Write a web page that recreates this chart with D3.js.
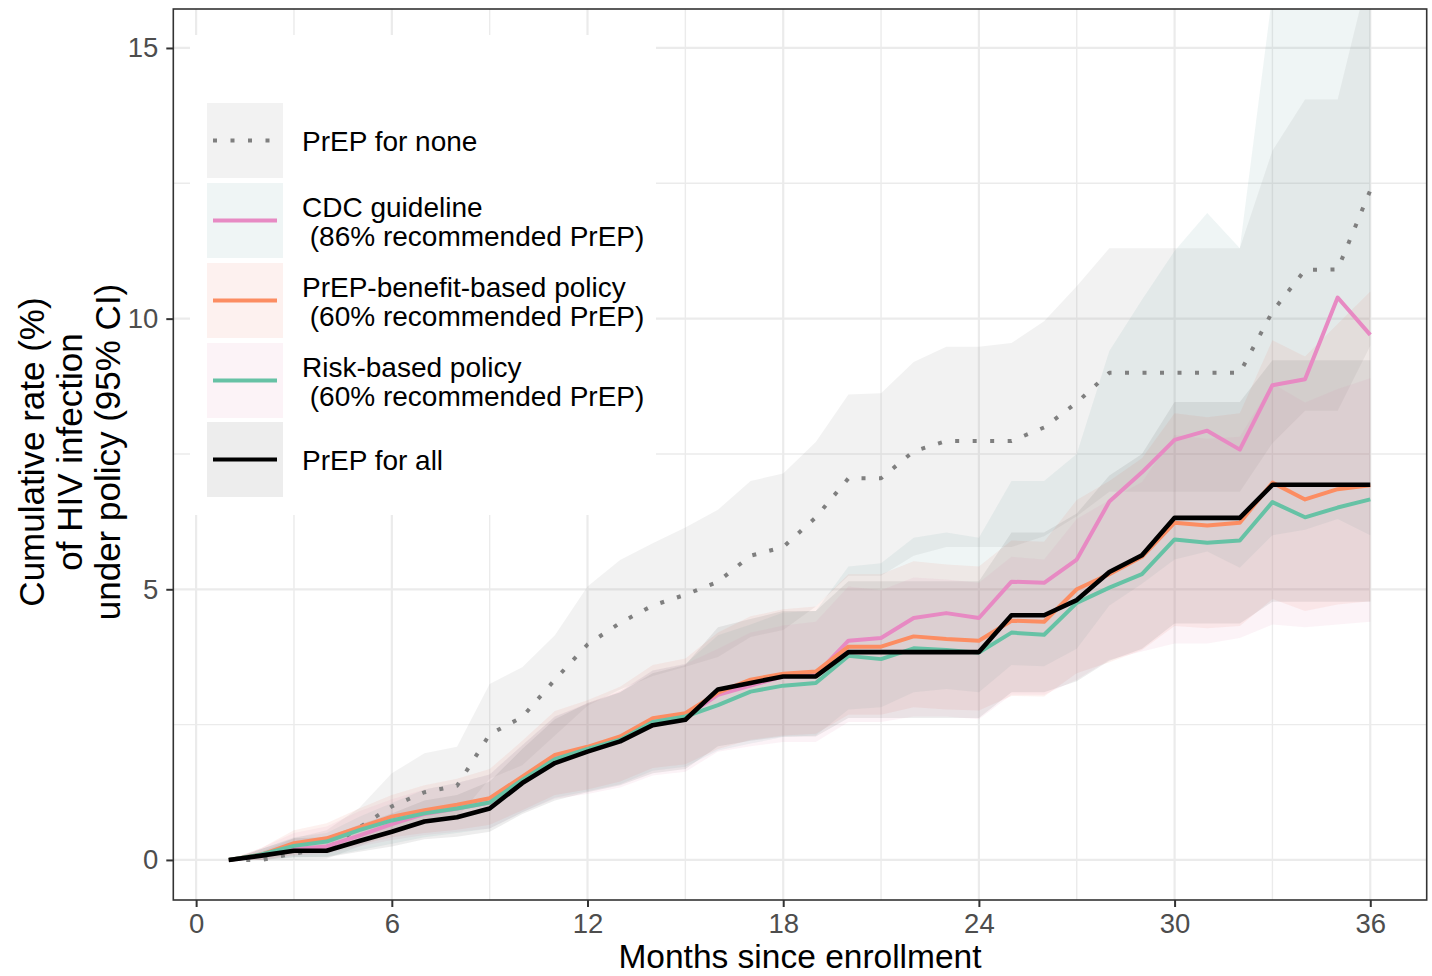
<!DOCTYPE html>
<html><head><meta charset="utf-8">
<script src="https://cdn.jsdelivr.net/npm/d3@7"></script>
<style>
body{margin:0;background:#fff}
text{font-family:"Liberation Sans",Arial,Helvetica,sans-serif}
</style>
</head><body>
<svg id="chart" width="1432" height="976"></svg>
<script>
// ---------------- data ----------------
const months = [1,2,3,4,5,6,7,8,9,10,11,12,13,14,15,16,17,18,19,20,21,22,23,24,25,26,27,28,29,30,31,32,33,34,35,36];
const xTicks = [0,6,12,18,24,30,36];
const xMinorTicks = [3,9,15,21,27,33];
const yTicks = [0,5,10,15];
const yMinorTicks = [2.5,7.5,12.5];

const seriesNames = ["PrEP for none","CDC guideline\n (86% recommended PrEP)","PrEP-benefit-based policy\n (60% recommended PrEP)","Risk-based policy\n (60% recommended PrEP)","PrEP for all"];

// PrEP for none
const noneRate = [0,0,0.12,0.2,0.6,0.99,1.25,1.37,2.32,2.64,3.33,3.98,4.38,4.7,4.9,5.14,5.62,5.78,6.33,7.05,7.05,7.55,7.74,7.74,7.74,7.99,8.45,9.0,9.0,9.0,9.0,9.0,10.13,10.9,10.91,12.37];
const noneLow  = [0,0,0,0.02,0.25,0.5,0.7,0.78,1.5,1.75,2.3,2.85,3.15,3.4,3.57,3.75,4.12,4.25,4.68,5.25,5.25,5.62,5.78,5.78,5.78,5.98,6.35,6.8,6.8,6.8,6.8,6.8,7.7,8.3,8.3,9.5];
const noneHigh = [0,0.15,0.4,0.55,0.96,1.6,1.97,2.09,3.25,3.56,4.15,5.05,5.54,5.85,6.14,6.47,7.0,7.14,7.72,8.6,8.62,9.2,9.48,9.48,9.55,9.95,10.6,11.3,11.3,11.3,11.3,11.3,13.1,14.05,14.05,16.5];

// CDC guideline
const cdcRate = [0,0.08,0.2,0.25,0.45,0.66,0.85,0.95,1.06,1.48,1.88,2.05,2.22,2.55,2.65,3.05,3.22,3.39,3.42,4.05,4.1,4.47,4.56,4.47,5.14,5.12,5.55,6.62,7.16,7.76,7.93,7.58,8.77,8.88,10.39,9.7];
const cdcLow  = [0,0,0.05,0.06,0.18,0.3,0.42,0.5,0.58,0.88,1.15,1.27,1.4,1.65,1.72,2.02,2.15,2.27,2.3,2.78,2.82,3.1,3.16,3.1,3.6,3.58,3.9,4.7,5.1,5.55,5.7,5.4,6.0,6.1,6.3,6.0];
const cdcHigh = [0,0.2,0.42,0.5,0.8,1.05,1.3,1.42,1.58,2.12,2.65,2.88,3.1,3.5,3.62,4.15,4.35,4.57,4.6,5.42,5.48,5.95,6.05,5.95,7.0,7.0,7.5,9.4,10.35,11.25,11.95,11.3,16.0,19.0,22.0,24.0];

// PrEP-benefit-based policy
const benefitRate = [0,0.1,0.31,0.4,0.6,0.8,0.92,1.02,1.14,1.54,1.94,2.09,2.28,2.62,2.71,3.09,3.33,3.44,3.48,3.94,3.94,4.13,4.08,4.05,4.42,4.4,5.0,5.28,5.6,6.23,6.18,6.23,6.97,6.66,6.85,6.92];
const benefitLow  = [0,0,0.1,0.15,0.28,0.42,0.5,0.56,0.65,0.92,1.2,1.3,1.45,1.7,1.77,2.05,2.22,2.3,2.33,2.68,2.68,2.82,2.78,2.76,3.03,3.02,3.45,3.65,3.88,4.32,4.28,4.32,4.82,4.6,4.72,4.78];
const benefitHigh = [0,0.22,0.55,0.68,0.95,1.2,1.38,1.5,1.68,2.2,2.75,2.95,3.2,3.6,3.72,4.2,4.5,4.63,4.68,5.28,5.28,5.52,5.46,5.42,5.9,5.88,6.65,7.0,7.42,8.25,8.18,8.25,9.6,9.3,9.9,10.5];

// Risk-based policy
const riskRate = [0,0.1,0.26,0.34,0.55,0.73,0.86,0.95,1.06,1.48,1.86,2.05,2.22,2.55,2.65,2.86,3.11,3.22,3.27,3.77,3.71,3.91,3.88,3.83,4.2,4.16,4.75,5.03,5.28,5.92,5.86,5.9,6.61,6.33,6.51,6.66];
const riskLow  = [0,0,0.08,0.12,0.25,0.37,0.46,0.52,0.58,0.88,1.13,1.22,1.34,1.56,1.63,2.0,2.1,2.18,2.18,2.55,2.55,2.65,2.65,2.6,3.05,3.05,3.33,3.7,3.85,4.0,4.0,4.1,4.35,4.3,4.35,4.4];
const riskHigh = [0,0.22,0.5,0.62,0.9,1.12,1.3,1.42,1.58,2.12,2.65,2.9,3.12,3.5,3.62,3.9,4.2,4.33,4.4,5.05,4.98,5.22,5.18,5.12,5.6,5.55,6.3,6.65,6.98,7.85,7.78,7.82,8.8,8.45,8.7,8.9];

// PrEP for all
const allRate = [0,0.08,0.17,0.17,0.35,0.52,0.71,0.79,0.95,1.42,1.79,2.0,2.19,2.49,2.59,3.15,3.27,3.39,3.39,3.84,3.84,3.84,3.84,3.84,4.52,4.52,4.8,5.32,5.63,6.32,6.32,6.32,6.93,6.93,6.93,6.93];
const allLow  = [0,0,0.05,0.05,0.15,0.25,0.38,0.43,0.52,0.85,1.1,1.25,1.38,1.6,1.68,2.1,2.2,2.28,2.28,2.62,2.62,2.62,2.62,2.62,3.1,3.1,3.3,3.68,3.9,4.37,4.37,4.37,4.77,4.77,4.77,4.77];
const allHigh = [0,0.2,0.4,0.42,0.65,0.86,1.1,1.2,1.45,2.05,2.6,2.9,3.1,3.45,3.6,4.3,4.45,4.6,4.6,5.15,5.15,5.15,5.15,5.15,6.05,6.05,6.4,7.1,7.5,8.46,8.46,8.46,9.23,9.23,9.23,9.23];

const lineColors = ["#7f7f7f","#e78ac3","#fc8d62","#66c2a5","#000000"];
const fillColors = ["#7d7d7d","#5f9ea0","#f07a60","#e08cb0","#4a4a4a"];

// ---------------- build ----------------
const rates = [noneRate, cdcRate, benefitRate, riskRate, allRate];
const lows  = [noneLow, cdcLow, benefitLow, riskLow, allLow];
const highs = [noneHigh, cdcHigh, benefitHigh, riskHigh, allHigh];
const series = seriesNames.map((name,i)=>({
  name, color: lineColors[i], fill: fillColors[i],
  pts: months.map((m,j)=>({m, v: rates[i][j], lo: lows[i][j], hi: highs[i][j]}))
}));

const svg = d3.select("#chart");
const P = {left:173.3, right:1426.7, top:9, bottom:900};
const x = d3.scaleLinear().domain([-0.70, 37.73]).range([P.left, P.right]);
const y = d3.scaleLinear().domain([-0.74, 15.72]).range([P.bottom, P.top]);

svg.append("rect").attr("width",1432).attr("height",976).attr("fill","#fff");

svg.append("defs").append("clipPath").attr("id","panel")
  .append("rect").attr("x",P.left).attr("y",P.top)
  .attr("width",P.right-P.left).attr("height",P.bottom-P.top);

const grid = svg.append("g");
grid.selectAll(".vmin").data(xMinorTicks).join("line")
  .attr("x1",d=>x(d)).attr("x2",d=>x(d)).attr("y1",P.top).attr("y2",P.bottom)
  .attr("stroke","#ebebeb").attr("stroke-width",1.4);
grid.selectAll(".hmin").data(yMinorTicks).join("line")
  .attr("y1",d=>y(d)).attr("y2",d=>y(d)).attr("x1",P.left).attr("x2",P.right)
  .attr("stroke","#ebebeb").attr("stroke-width",1.4);
grid.selectAll(".vmaj").data(xTicks).join("line")
  .attr("x1",d=>x(d)).attr("x2",d=>x(d)).attr("y1",P.top).attr("y2",P.bottom)
  .attr("stroke","#ebebeb").attr("stroke-width",2.2);
grid.selectAll(".hmaj").data(yTicks).join("line")
  .attr("y1",d=>y(d)).attr("y2",d=>y(d)).attr("x1",P.left).attr("x2",P.right)
  .attr("stroke","#ebebeb").attr("stroke-width",2.2);

const plot = svg.append("g").attr("clip-path","url(#panel)");
const area = d3.area().x(d=>x(d.m)).y0(d=>y(d.lo)).y1(d=>y(d.hi));
const line = d3.line().x(d=>x(d.m)).y(d=>y(d.v));

plot.selectAll(".rib").data(series).join("path")
  .attr("d",d=>area(d.pts)).attr("fill",d=>d.fill).attr("fill-opacity",0.1).attr("stroke","none");

plot.selectAll(".ln").data(series).join("path")
  .attr("d",d=>line(d.pts)).attr("fill","none")
  .attr("stroke",d=>d.color)
  .attr("stroke-width",(d,i)=> i===4 ? 4.6 : 4)
  .attr("stroke-dasharray",(d,i)=> i===0 ? "4,13.5" : null)
  .attr("stroke-linejoin","round");

// panel border
svg.append("rect").attr("x",P.left).attr("y",P.top)
  .attr("width",P.right-P.left).attr("height",P.bottom-P.top)
  .attr("fill","none").attr("stroke","#333").attr("stroke-width",1.6);

// axes
const xAxis = svg.append("g").attr("transform",`translate(0,${P.bottom})`)
  .call(d3.axisBottom(x).tickValues(xTicks).tickSize(7).tickPadding(6));
const yAxis = svg.append("g").attr("transform",`translate(${P.left},0)`)
  .call(d3.axisLeft(y).tickValues(yTicks).tickSize(7).tickPadding(8));
[xAxis,yAxis].forEach(a=>{
  a.select(".domain").remove();
  a.selectAll(".tick line").attr("stroke","#333").attr("stroke-width",2);
  a.selectAll(".tick text").attr("fill","#4d4d4d").attr("font-size",27.5)
    .attr("font-family","Liberation Sans, Arial, sans-serif");
});

// axis titles
svg.append("text").attr("x",(P.left+P.right)/2).attr("y",968)
  .attr("text-anchor","middle").attr("font-size",33.5).attr("fill","#000")
  .text("Months since enrollment");
const yTitle = ["Cumulative rate (%)","of HIV infection","under policy (95% CI)"];
const yt = svg.append("text").attr("transform","rotate(-90)")
  .attr("text-anchor","middle").attr("font-size",35).attr("fill","#000");
yTitle.forEach((t,i)=>{
  yt.append("tspan").attr("x",-452).attr("y",44+i*38).text(t);
});

// legend
const lg = svg.append("g");
lg.append("rect").attr("x",190).attr("y",35).attr("width",466).attr("height",480).attr("fill","#fff");
const keyTops = [103,183,263,343,422];
series.forEach((s,i)=>{
  const top = keyTops[i], h = 75, c = top + h/2;
  lg.append("rect").attr("x",207).attr("y",top).attr("width",76).attr("height",h)
    .attr("fill",s.fill).attr("fill-opacity",0.1);
  lg.append("line").attr("x1",213).attr("x2",277).attr("y1",c).attr("y2",c)
    .attr("stroke",s.color).attr("stroke-width",4)
    .attr("stroke-dasharray", i===0 ? "4,13.5" : null);
  const lines = s.name.split("\n");
  const t = lg.append("text").attr("font-size",28).attr("fill","#000")
    .style("white-space","pre");
  if (lines.length===1) {
    t.append("tspan").attr("x",302).attr("y",c+10).text(lines[0]);
  } else {
    t.append("tspan").attr("x",302).attr("y",c-4).text(lines[0]);
    t.append("tspan").attr("x",302).attr("y",c+25).text(lines[1]);
  }
});
</script>
</body></html>
